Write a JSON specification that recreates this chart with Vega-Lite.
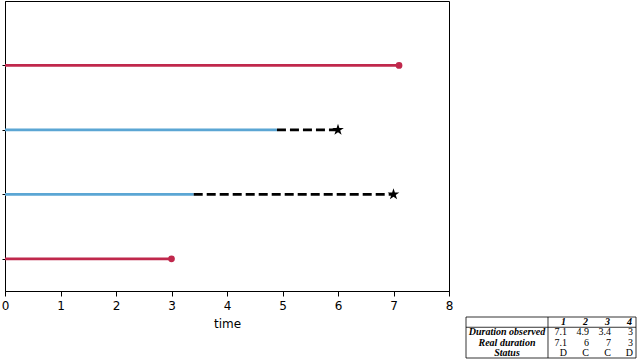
{
  "$schema": "https://vega.github.io/schema/vega-lite/v6.json",
  "padding": 0,
  "spacing": 11,
  "background": "white",
  "config": {
    "view": {"stroke": null},
    "font": "DejaVu Sans"
  },
  "datasets": {
    "subjects": [
      {"id": 1, "start": 0, "obs": 7.1, "real": 7.1, "status": "D"},
      {"id": 2, "start": 0, "obs": 4.9, "real": 6, "status": "C"},
      {"id": 3, "start": 0, "obs": 3.4, "real": 7, "status": "C"},
      {"id": 4, "start": 0, "obs": 3, "real": 3, "status": "D"}
    ],
    "cells": [
      {"row": 0, "col": 1, "t": "1", "kind": "head"},
      {"row": 0, "col": 2, "t": "2", "kind": "head"},
      {"row": 0, "col": 3, "t": "3", "kind": "head"},
      {"row": 0, "col": 4, "t": "4", "kind": "head"},
      {"row": 1, "col": 1, "t": "7.1", "kind": "val"},
      {"row": 1, "col": 2, "t": "4.9", "kind": "val"},
      {"row": 1, "col": 3, "t": "3.4", "kind": "val"},
      {"row": 1, "col": 4, "t": "3", "kind": "val"},
      {"row": 2, "col": 1, "t": "7.1", "kind": "val"},
      {"row": 2, "col": 2, "t": "6", "kind": "val"},
      {"row": 2, "col": 3, "t": "7", "kind": "val"},
      {"row": 2, "col": 4, "t": "3", "kind": "val"},
      {"row": 3, "col": 1, "t": "D", "kind": "val"},
      {"row": 3, "col": 2, "t": "C", "kind": "val"},
      {"row": 3, "col": 3, "t": "C", "kind": "val"},
      {"row": 3, "col": 4, "t": "D", "kind": "val"},
      {"row": 1, "col": 0, "t": "Duration observed", "kind": "label"},
      {"row": 2, "col": 0, "t": "Real duration", "kind": "label"},
      {"row": 3, "col": 0, "t": "Status", "kind": "label"}
    ],
    "lines": [
      {"xa": -3.727, "xb": 4, "ya": -0.5, "yb": -0.5},
      {"xa": -3.727, "xb": 4, "ya": 0.5, "yb": 0.5},
      {"xa": -3.727, "xb": 4, "ya": 3.5, "yb": 3.5},
      {"xa": -3.727, "xb": -3.727, "ya": -0.5, "yb": 3.5},
      {"xa": 0, "xb": 0, "ya": -0.5, "yb": 3.5},
      {"xa": 4, "xb": 4, "ya": -0.5, "yb": 3.5}
    ]
  },
  "hconcat": [
    {
      "width": 444,
      "height": 290,
      "view": {"stroke": "black", "strokeWidth": 1},
      "data": {"name": "subjects"},
      "layer": [
        {
          "mark": {"type": "rule", "strokeWidth": 2.8},
          "encoding": {
            "x": {
              "field": "start", "type": "quantitative",
              "scale": {"domain": [0, 8], "nice": false, "zero": false},
              "axis": {"values": [0, 1, 2, 3, 4, 5, 6, 7, 8], "format": "d", "grid": false, "title": "time",
                       "titleFont": "DejaVu Sans", "titleFontSize": 12, "titleFontWeight": "normal",
                       "titleColor": "black", "titlePadding": 7,
                       "labelFont": "DejaVu Sans", "labelFontSize": 12, "labelColor": "black",
                       "labelPadding": 4, "tickSize": 5, "tickColor": "black", "domainColor": "black",
                       "labelFlush": false}
            },
            "x2": {"field": "obs"},
            "y": {
              "field": "id", "type": "quantitative",
              "scale": {"domain": [0, 4.5], "reverse": true, "nice": false, "zero": false},
              "axis": {"values": [1, 2, 3, 4], "labels": false, "title": null, "grid": false,
                       "tickSize": 3, "tickColor": "black", "domainColor": "black",
                       "labelPadding": 0, "minExtent": 0, "maxExtent": 3}
            },
            "color": {
              "field": "status", "type": "nominal",
              "scale": {"domain": ["D", "C"], "range": ["#c0284c", "#5ba6d4"]},
              "legend": null
            }
          }
        },
        {
          "transform": [{"filter": "datum.status === 'C'"}],
          "mark": {"type": "rule", "strokeWidth": 2.8, "color": "black", "strokeDash": [9, 4]},
          "encoding": {
            "x": {"field": "obs", "type": "quantitative"},
            "x2": {"field": "real"},
            "y": {"field": "id", "type": "quantitative"}
          }
        },
        {
          "transform": [{"filter": "datum.status === 'D'"}],
          "mark": {"type": "point", "filled": true, "opacity": 1, "size": 45, "color": "#c0284c", "shape": "circle"},
          "encoding": {
            "x": {"field": "obs", "type": "quantitative"},
            "y": {"field": "id", "type": "quantitative"}
          }
        },
        {
          "transform": [{"filter": "datum.status === 'C'"}],
          "mark": {"type": "point", "filled": true, "opacity": 1, "size": 150, "color": "black",
                   "shape": "M0,-1L0.2245,-0.309L0.951,-0.309L0.363,0.118L0.588,0.809L0,0.382L-0.588,0.809L-0.363,0.118L-0.951,-0.309L-0.2245,-0.309Z"},
          "encoding": {
            "x": {"field": "real", "type": "quantitative"},
            "y": {"field": "id", "type": "quantitative"}
          }
        }
      ]
    },
    {
      "width": 170,
      "height": 359,
      "layer": [
        {
          "data": {"name": "lines"},
          "mark": {"type": "rule", "color": "black", "strokeWidth": 0.8},
          "encoding": {
            "x": {"field": "xa", "type": "quantitative",
                  "scale": {"domain": [-3.727, 4], "nice": false, "zero": false}, "axis": null},
            "x2": {"field": "xb"},
            "y": {"field": "ya", "type": "quantitative",
                  "scale": {"domain": [-31.33, 3.695], "reverse": true, "nice": false, "zero": false}, "axis": null},
            "y2": {"field": "yb"}
          }
        },
        {
          "data": {"name": "cells"},
          "transform": [{"filter": "datum.kind === 'label'"}],
          "mark": {"type": "text", "font": "Liberation Serif", "fontSize": 10, "fontWeight": "bold",
                   "fontStyle": "italic", "align": "center", "baseline": "middle", "color": "black"},
          "encoding": {
            "x": {"datum": -1.864, "type": "quantitative"},
            "y": {"field": "row", "type": "quantitative"},
            "text": {"field": "t"}
          }
        },
        {
          "data": {"name": "cells"},
          "transform": [{"filter": "datum.kind === 'head'"}],
          "mark": {"type": "text", "font": "Liberation Serif", "fontSize": 10, "fontWeight": "bold",
                   "fontStyle": "italic", "align": "right", "baseline": "middle", "dx": -4, "color": "black"},
          "encoding": {
            "x": {"field": "col", "type": "quantitative"},
            "y": {"field": "row", "type": "quantitative"},
            "text": {"field": "t"}
          }
        },
        {
          "data": {"name": "cells"},
          "transform": [{"filter": "datum.kind === 'val'"}],
          "mark": {"type": "text", "font": "Liberation Serif", "fontSize": 10,
                   "align": "right", "baseline": "middle", "dx": -3, "color": "black"},
          "encoding": {
            "x": {"field": "col", "type": "quantitative"},
            "y": {"field": "row", "type": "quantitative"},
            "text": {"field": "t"}
          }
        }
      ]
    }
  ]
}
